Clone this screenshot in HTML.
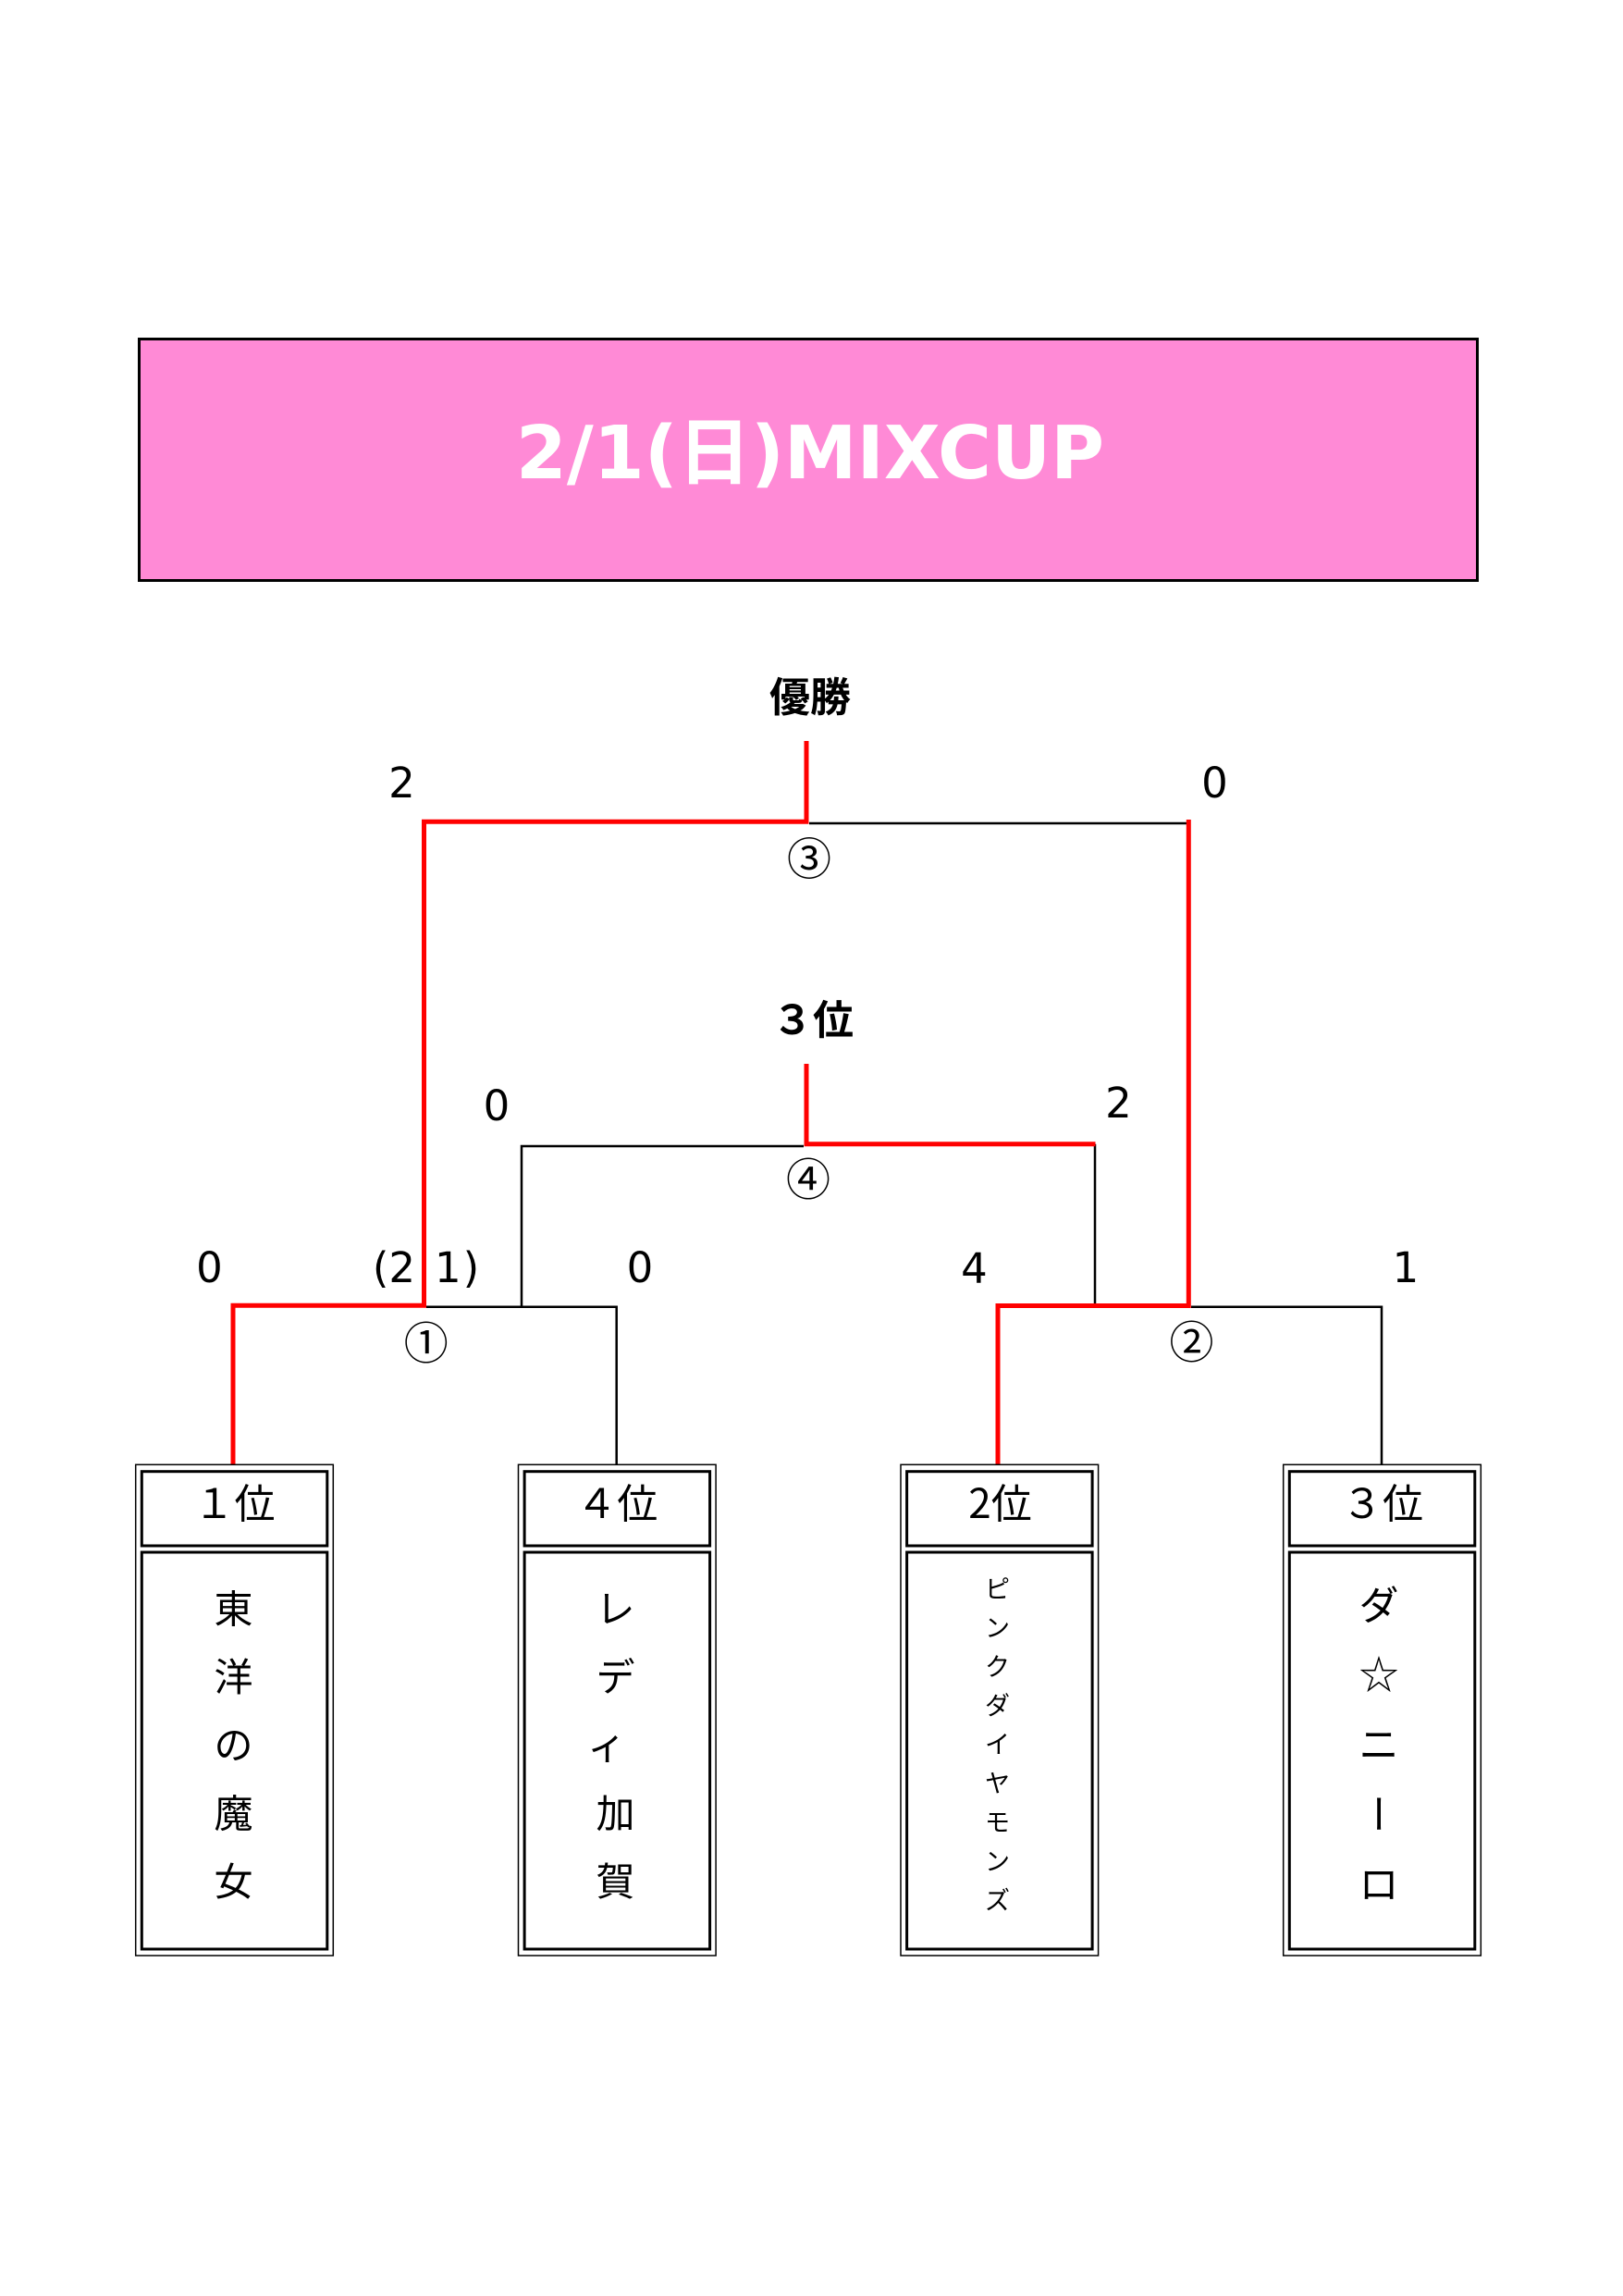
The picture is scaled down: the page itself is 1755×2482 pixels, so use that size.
<!DOCTYPE html>
<html>
<head>
<meta charset="utf-8">
<style>
html,body{margin:0;padding:0;background:#fff;}
svg{display:block;}
.sc{font-family:"DejaVu Sans","Liberation Sans",sans-serif;font-size:45px;fill:#000;}
.jp{font-family:"Noto Sans CJK JP","Liberation Sans",sans-serif;fill:#000;}
</style>
</head>
<body>
<svg width="1755" height="2482" viewBox="0 0 1755 2482" xmlns="http://www.w3.org/2000/svg">
  <rect x="0" y="0" width="1755" height="2482" fill="#fff"/>

  <!-- Title box -->
  <rect x="150.5" y="366.5" width="1447" height="261" fill="#ff8ad6" stroke="#000" stroke-width="3"/>
  <text x="876" y="517" text-anchor="middle" font-family="'DejaVu Sans','Noto Sans CJK JP',sans-serif" font-weight="bold" font-size="79" fill="#fff">2/1(日)MIXCUP</text>

  <!-- Round labels -->
  <text class="jp" x="876" y="769" text-anchor="middle" font-size="44" font-weight="bold">優勝</text>
  <text class="jp" x="879" y="1118" text-anchor="middle" font-size="44" font-weight="bold">３位</text>

  <!-- Black lines -->
  <g fill="none" stroke="#000" stroke-width="2.5" stroke-linejoin="miter" stroke-linecap="butt">
    <line x1="875" y1="890" x2="1285" y2="890"/>
    <polyline points="564,1412.7 564,1239 869,1239"/>
    <line x1="1184" y1="1236.7" x2="1184" y2="1409"/>
    <polyline points="461,1412.7 666.7,1412.7 666.7,1583"/>
    <polyline points="1288,1412.7 1494,1412.7 1494,1583"/>
  </g>

  <!-- Red lines -->
  <g fill="none" stroke="#ff0000" stroke-width="5" stroke-linejoin="miter" stroke-linecap="butt">
    <polyline points="252,1583 252,1411.3 458.5,1411.3 458.5,888.3 872,888.3 872,801"/>
    <polyline points="1079,1583 1079,1411.5 1285.3,1411.5 1285.3,886"/>
    <polyline points="872,1150 872,1236.7 1184.5,1236.7"/>
  </g>

  <!-- Scores -->
  <text class="sc" x="434.5" y="862" text-anchor="middle">2</text>
  <text class="sc" x="1313.5" y="862" text-anchor="middle">0</text>
  <text class="sc" x="537" y="1211" text-anchor="middle">0</text>
  <text class="sc" x="1209.5" y="1208" text-anchor="middle">2</text>
  <text class="sc" x="226.5" y="1386" text-anchor="middle">0</text>
  <text class="sc" x="449" y="1386" text-anchor="end">(2</text>
  <text class="sc" x="470" y="1386" text-anchor="start" letter-spacing="2">1)</text>
  <text class="sc" x="692" y="1386" text-anchor="middle">0</text>
  <text class="sc" x="1053.5" y="1387" text-anchor="middle">4</text>
  <text class="sc" x="1520" y="1386" text-anchor="middle">1</text>

  <!-- Match numbers -->
  <text class="jp" x="875" y="945.5" text-anchor="middle" font-size="48">③</text>
  <text class="jp" x="874" y="1292" text-anchor="middle" font-size="48">④</text>
  <text class="jp" x="460.7" y="1469" text-anchor="middle" font-size="48">①</text>
  <text class="jp" x="1288.5" y="1468" text-anchor="middle" font-size="48">②</text>

  <!-- Team boxes -->
  <g fill="none" stroke="#000">
    <g>
      <rect x="146.7" y="1583.3" width="213.6" height="530.7" stroke-width="1.5"/>
      <rect x="153.3" y="1590.7" width="200.5" height="80.3" stroke-width="3"/>
      <rect x="153.3" y="1678" width="200.5" height="429" stroke-width="3"/>
    </g>
    <g transform="translate(413.8,0)">
      <rect x="146.7" y="1583.3" width="213.6" height="530.7" stroke-width="1.5"/>
      <rect x="153.3" y="1590.7" width="200.5" height="80.3" stroke-width="3"/>
      <rect x="153.3" y="1678" width="200.5" height="429" stroke-width="3"/>
    </g>
    <g transform="translate(827.3,0)">
      <rect x="146.7" y="1583.3" width="213.6" height="530.7" stroke-width="1.5"/>
      <rect x="153.3" y="1590.7" width="200.5" height="80.3" stroke-width="3"/>
      <rect x="153.3" y="1678" width="200.5" height="429" stroke-width="3"/>
    </g>
    <g transform="translate(1241,0)">
      <rect x="146.7" y="1583.3" width="213.6" height="530.7" stroke-width="1.5"/>
      <rect x="153.3" y="1590.7" width="200.5" height="80.3" stroke-width="3"/>
      <rect x="153.3" y="1678" width="200.5" height="429" stroke-width="3"/>
    </g>
  </g>

  <!-- Box headers -->
  <text class="jp" x="253.5" y="1641" text-anchor="middle" font-size="44">１位</text>
  <text class="jp" x="667.3" y="1641" text-anchor="middle" font-size="44">４位</text>
  <text class="jp" x="1081.5" y="1641" text-anchor="middle" font-size="44">2位</text>
  <text class="jp" x="1495" y="1641" text-anchor="middle" font-size="44">３位</text>

  <!-- Box 1: 東洋の魔女 -->
  <g class="jp" font-size="42" text-anchor="middle">
    <text x="252.5" y="1754.5">東</text>
    <text x="252.5" y="1828">洋</text>
    <text x="252.5" y="1901.7">の</text>
    <text x="252.5" y="1975.3">魔</text>
    <text x="252.5" y="2049">女</text>
  </g>

  <!-- Box 2: レディ加賀 -->
  <g class="jp" font-size="42" text-anchor="middle">
    <text x="665.5" y="1754.5">レ</text>
    <text x="665.5" y="1828">デ</text>
    <text x="656" y="1901.7">ィ</text>
    <text x="665.5" y="1975.3">加</text>
    <text x="665.5" y="2049">賀</text>
  </g>

  <!-- Box 3: ピンクダイヤモンズ -->
  <g class="jp" font-size="27" text-anchor="middle">
    <text x="1078.5" y="1727.3">ピ</text>
    <text x="1078.5" y="1769.3">ン</text>
    <text x="1078.5" y="1811.4">ク</text>
    <text x="1078.5" y="1853.5">ダ</text>
    <text x="1078.5" y="1895.6">イ</text>
    <text x="1078.5" y="1937.6">ヤ</text>
    <text x="1078.5" y="1979.7">モ</text>
    <text x="1078.5" y="2021.8">ン</text>
    <text x="1078.5" y="2063.9">ズ</text>
  </g>

  <!-- Box 4: ダ☆ニーロ -->
  <g class="jp" font-size="43" text-anchor="middle">
    <text x="1491" y="1750.8">ダ</text>
    <text x="1491" y="1826.2">☆</text>
    <text x="1491" y="1901.6">ニ</text>
    <text x="1491" y="1977" transform="rotate(90 1491 1960.6)">ー</text>
    <text x="1491" y="2052.4">ロ</text>
  </g>
</svg>
</body>
</html>
